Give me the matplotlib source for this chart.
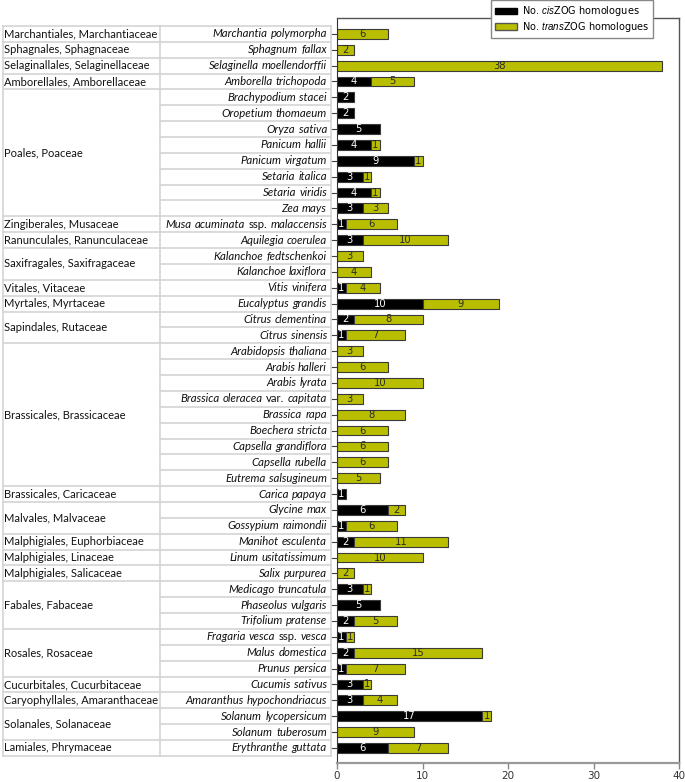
import numpy as np
import matplotlib.pyplot as plt
from matplotlib.patches import Patch

plt.rcParams['mathtext.fontset'] = 'custom'
plt.rcParams['mathtext.rm'] = 'Liberation Sans'
plt.rcParams['mathtext.it'] = 'Liberation Sans:italic'

# order/family groups and how many species rows each spans
groups = ['Marchantiales, Marchantiaceae', 'Sphagnales, Sphagnaceae',
          'Selaginallales, Selaginellaceae', 'Amborellales, Amborellaceae',
          'Poales, Poaceae', 'Zingiberales, Musaceae', 'Ranunculales, Ranunculaceae',
          'Saxifragales, Saxifragaceae', 'Vitales, Vitaceae', 'Myrtales, Myrtaceae',
          'Sapindales, Rutaceae', 'Brassicales, Brassicaceae', 'Brassicales, Caricaceae',
          'Malvales, Malvaceae', 'Malphigiales, Euphorbiaceae', 'Malphigiales, Linaceae',
          'Malphigiales, Salicaceae', 'Fabales, Fabaceae', 'Rosales, Rosaceae',
          'Cucurbitales, Cucurbitaceae', 'Caryophyllales, Amaranthaceae',
          'Solanales, Solanaceae', 'Lamiales, Phrymaceae']
group_sizes = [1, 1, 1, 1, 8, 1, 1, 2, 1, 1, 2, 9, 1, 2, 1, 1, 1, 3, 3, 1, 1, 2, 1]

species = ['Marchantia polymorpha', 'Sphagnum fallax', 'Selaginella moellendorffii',
           'Amborella trichopoda', 'Brachypodium stacei', 'Oropetium thomaeum',
           'Oryza sativa', 'Panicum hallii', 'Panicum virgatum', 'Setaria italica',
           'Setaria viridis', 'Zea mays', 'Musa acuminata ssp. malaccensis',
           'Aquilegia coerulea', 'Kalanchoe fedtschenkoi', 'Kalanchoe laxiflora',
           'Vitis vinifera', 'Eucalyptus grandis', 'Citrus clementina', 'Citrus sinensis',
           'Arabidopsis thaliana', 'Arabis halleri', 'Arabis lyrata',
           'Brassica oleracea var. capitata', 'Brassica rapa', 'Boechera stricta',
           'Capsella grandiflora', 'Capsella rubella', 'Eutrema salsugineum',
           'Carica papaya', 'Glycine max', 'Gossypium raimondii', 'Manihot esculenta',
           'Linum usitatissimum', 'Salix purpurea', 'Medicago truncatula',
           'Phaseolus vulgaris', 'Trifolium pratense', 'Fragaria vesca ssp. vesca',
           'Malus domestica', 'Prunus persica', 'Cucumis sativus',
           'Amaranthus hypochondriacus', 'Solanum lycopersicum', 'Solanum tuberosum',
           'Erythranthe guttata']
cis = [0, 0, 0, 4, 2, 2, 5, 4, 9, 3, 4, 3, 1, 3, 0, 0, 1, 10, 2, 1,
       0, 0, 0, 0, 0, 0, 0, 0, 0, 1, 6, 1, 2, 0, 0, 3, 5, 2, 1, 2, 1, 3, 3, 17, 0, 6]
trans = [6, 2, 38, 5, 0, 0, 0, 1, 1, 1, 1, 3, 6, 10, 3, 4, 4, 9, 8, 7,
         3, 6, 10, 3, 8, 6, 6, 6, 5, 0, 2, 6, 11, 10, 2, 1, 0, 5, 1, 15, 7, 1, 4, 1, 9, 7]

W, H = 685, 782
green = '#b9bf00'
fig = plt.figure(figsize=(W / 100, H / 100), dpi=100)

# bar chart
ax = fig.add_axes([337 / W, 19 / H, 342 / W, 745 / H])
y = np.arange(len(species))
cis = np.array(cis)
trans = np.array(trans)
m = cis > 0
ax.barh(y[m], cis[m], height=0.62, color='black', edgecolor='#3a3a3a', linewidth=0.8)
m = trans > 0
ax.barh(y[m], trans[m], left=cis[m], height=0.62, color=green, edgecolor='#3a3a3a', linewidth=0.8)
for i in range(len(species)):
    if cis[i] > 0:
        ax.text(cis[i] / 2, i, str(cis[i]), color='white', ha='center', va='center', fontsize=7.2)
    if trans[i] > 0:
        ax.text(cis[i] + trans[i] / 2, i, str(trans[i]), color='#2a2a2a',
                ha='center', va='center', fontsize=7.2)

ax.set_xlim(0, 40)
ax.set_ylim(45.95, -1.0)
ax.set_xticks([0, 10, 20, 30, 40])
ax.set_yticks(y)
ax.set_yticklabels([])
ax.tick_params(axis='y', length=4, color='#404040', width=0.8)
ax.tick_params(axis='x', length=4, color='#888888', width=1, labelsize=7.5,
               labelcolor='#333333', pad=1.5)
ax.spines['bottom'].set_color('#999999')
ax.spines['bottom'].set_linewidth(1.6)
ax.spines['left'].set_color('#333333')
for s in ['top', 'right']:
    ax.spines[s].set_color('#555555')
    ax.spines[s].set_linewidth(1)

handles = [Patch(facecolor='black', edgecolor='black'),
           Patch(facecolor=green, edgecolor='#555555')]
labels = [r'No. $\mathit{cis}$ZOG homologues', r'No. $\mathit{trans}$ZOG homologues']
leg = fig.legend(handles, labels, loc='upper left', bbox_to_anchor=(491 / W, 1.0),
                 fancybox=False, edgecolor='#888888', framealpha=1, fontsize=7.0,
                 handlelength=2.2, handleheight=0.7, handletextpad=0.5,
                 borderpad=0.45, labelspacing=0.15, borderaxespad=0)
leg.get_frame().set_linewidth(1)

# taxonomy table on the left
tax = fig.add_axes([2 / W, 19 / H, 330 / W, 745 / H])
tax.set_xlim(2, 332)
tax.set_ylim(45.95, -1.0)
tax.axis('off')
line_c = '#d4d4d4'
n = len(species)
for x in [2.5, 160, 331]:
    tax.plot([x, x], [-0.5, n - 0.5], color=line_c, lw=1.2)
for k in range(n + 1):
    tax.plot([160, 331], [k - 0.5, k - 0.5], color=line_c, lw=1.2)
start = 0
for g, size in zip(groups, group_sizes):
    tax.plot([2.5, 160], [start - 0.5, start - 0.5], color=line_c, lw=1.2)
    tax.text(4, start + (size - 1) / 2, g, ha='left', va='center', fontsize=8.0,
             family='Lato', color='#111111')
    start += size
tax.plot([2.5, 160], [n - 0.5, n - 0.5], color=line_c, lw=1.2)

# species names: italic, with "ssp." / "var." upright, right aligned
renderer = fig.canvas.get_renderer()
for i, name in enumerate(species):
    words = name.split(' ')
    parts = []
    for w in words:
        parts.append((w, w not in ('ssp.', 'var.')))
    x = 327
    for w, italic in reversed(parts):
        t = tax.text(x, i, w, ha='right', va='center', fontsize=8.2, family='Lato',
                     style='italic' if italic else 'normal', color='#111111')
        x -= t.get_window_extent(renderer).width + 3.2

fig.savefig('out.png', dpi=100)
